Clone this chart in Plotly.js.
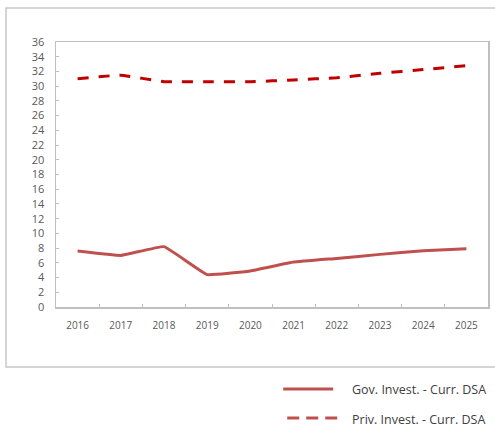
<!DOCTYPE html>
<html>
<head>
<meta charset="utf-8">
<script src="https://cdn.plot.ly/plotly-3.0.1.min.js"></script>
<style>html,body{margin:0;padding:0;background:#fff;}#chart{width:495px;height:430px;}</style>
</head>
<body>
<div id="chart"></div>
<script>
const years = ['2016','2017','2018','2019','2020','2021','2022','2023','2024','2025'];
const govInvest = [7.6, 7.0, 8.2, 4.4, 4.9, 6.1, 6.6, 7.15, 7.65, 7.9];
const privInvest = [31.0, 31.5, 30.6, 30.6, 30.6, 30.85, 31.15, 31.75, 32.25, 32.8];
const seriesNames = ['Gov. Invest. - Curr. DSA', 'Priv. Invest. - Curr. DSA'];
const yTicks = [0,2,4,6,8,10,12,14,16,18,20,22,24,26,28,30,32,34,36];

const L = 55.5, R = 488, T = 42, B = 307;
const px = v => (v - L) / (R - L);
const py = v => (B - v) / (B - T);

const traces = [
  {x: years, y: govInvest, name: seriesNames[0], type: 'scatter', mode: 'lines',
   line: {color: '#C0504D', width: 3, shape: 'spline', smoothing: 0.25}},
  {x: years, y: privInvest, name: seriesNames[1], type: 'scatter', mode: 'lines',
   line: {color: '#C00000', width: 3, dash: '11px,10px', shape: 'spline', smoothing: 0.25}}
];

const layout = {
  width: 495, height: 430,
  margin: {l: L, r: 495 - R, t: T, b: 430 - B, pad: 0},
  paper_bgcolor: '#fff', plot_bgcolor: '#fff',
  showlegend: false,
  font: {family: 'Open Sans, Noto Sans, sans-serif', size: 10, color: '#595959'},
  xaxis: {type: 'category', range: [-0.5, 9.5], showgrid: false, showline: true, linecolor: '#bfbfbf', linewidth: 1.5,
    mirror: true, ticks: 'inside', ticklen: 3, tickcolor: '#bfbfbf', tickson: 'boundaries',
    ticklabelstandoff: 8, tickfont: {size: 10, color: '#595959'}, zeroline: false, fixedrange: true},
  yaxis: {range: [0, 36], tickvals: yTicks, showgrid: false, showline: true, linecolor: '#bfbfbf', linewidth: 1.5,
    mirror: true, ticks: 'inside', ticklen: 3, tickcolor: '#bfbfbf', zeroline: false,
    ticklabelstandoff: 8, tickfont: {size: 11, color: '#595959'}, fixedrange: true},
  shapes: [
    {type: 'rect', xref: 'paper', yref: 'paper', x0: px(5.5), x1: px(500), y0: py(367), y1: py(8),
     line: {color: '#c8c8c8', width: 1.5}, fillcolor: 'rgba(0,0,0,0)', layer: 'below'},
    {type: 'line', xref: 'paper', yref: 'paper', x0: px(283), x1: px(333), y0: py(389), y1: py(389),
     line: {color: '#C0504D', width: 3}},
    {type: 'line', xref: 'paper', yref: 'paper', x0: px(287), x1: px(338), y0: py(418), y1: py(418),
     line: {color: '#C0504D', width: 3, dash: '12px,7px'}}
  ],
  annotations: [
    {xref: 'paper', yref: 'paper', x: px(350), y: py(389), xanchor: 'left', yanchor: 'middle',
     text: seriesNames[0], showarrow: false, font: {size: 12.5, color: '#404040'}},
    {xref: 'paper', yref: 'paper', x: px(350), y: py(419), xanchor: 'left', yanchor: 'middle',
     text: seriesNames[1], showarrow: false, font: {size: 12.5, color: '#404040'}}
  ]
};

Plotly.newPlot('chart', traces, layout, {displayModeBar: false, staticPlot: true});
</script>
</body>
</html>
